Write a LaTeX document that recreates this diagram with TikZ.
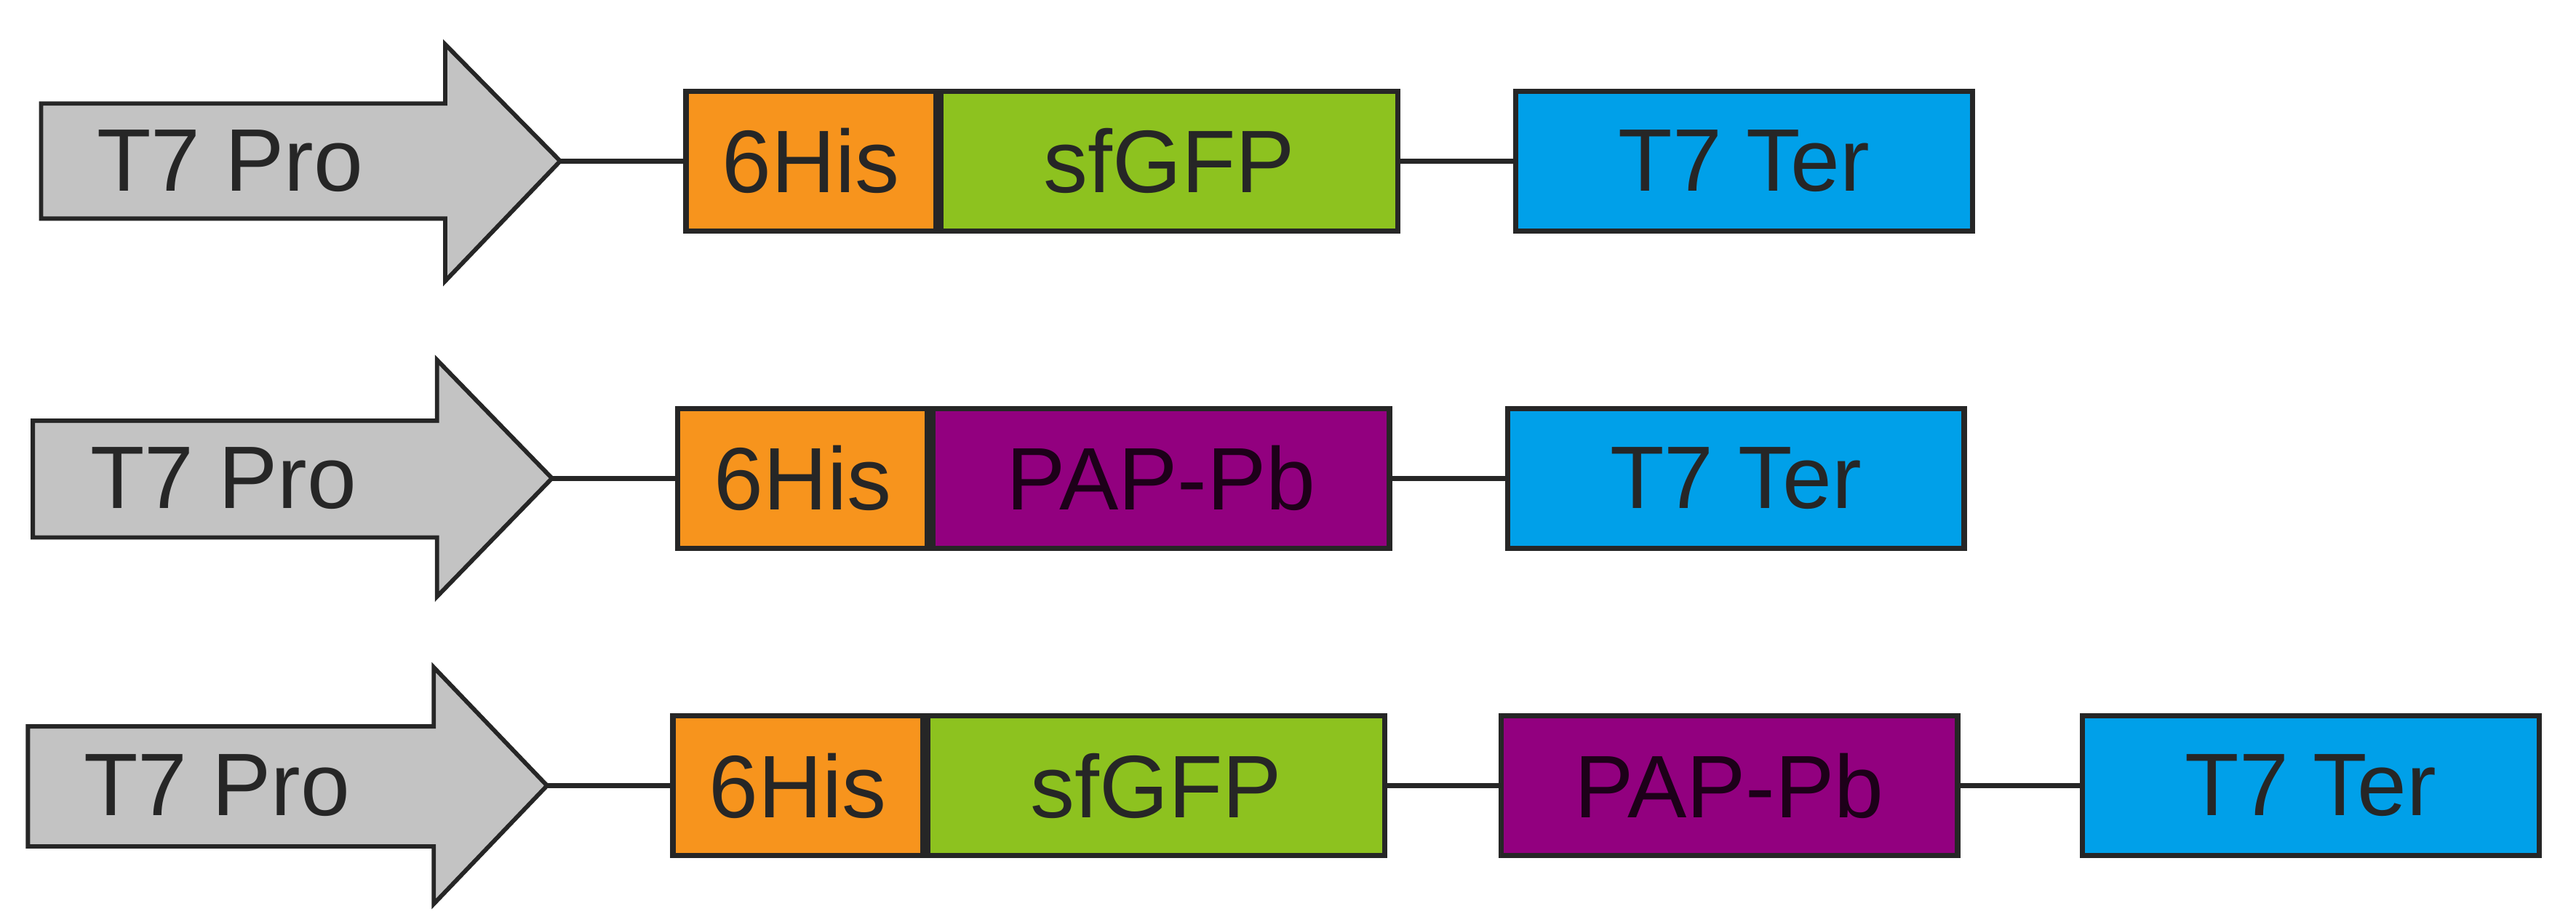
\documentclass[tikz,border=0pt]{standalone}
\usepackage{fontspec}
\setmainfont{Liberation Sans}
\definecolor{cgray}{HTML}{C3C3C3}
\definecolor{corange}{HTML}{F7941D}
\definecolor{cgreen}{HTML}{8DC21F}
\definecolor{cblue}{HTML}{00A0E9}
\definecolor{cpurple}{HTML}{92007F}
\begin{document}
\begin{tikzpicture}[x=0.5pt,y=-0.5pt,
  part/.style={draw=black!85,line width=1.6pt,minimum height=42.5pt,anchor=west,inner sep=0pt,font=\fontsize{27}{30}\selectfont,text=black!85},
  link/.style={line width=1.6pt,draw=black!85},
  arr/.style={draw=black!85,line width=1.3pt,fill=cgray}]
\useasboundingbox (0,0) rectangle (1568,557.5);
% row 1
\draw[arr] (25,63) -- (271,63) -- (271,27) -- (341,98) -- (271,171) -- (271,133) -- (25,133) -- cycle;
\node[font=\fontsize{27}{30}\selectfont,text=black!85] (pro1) at (140,98) {T7 Pro};
\coordinate (tip1) at (341,98);
\node[part,fill=corange,minimum width=76pt] (his1) at (416,98) {6His};
\node[part,fill=cgreen,minimum width=139pt] (gfp1) at (his1.east) {sfGFP};
\node[part,fill=cblue,minimum width=139pt] (ter1) at (921,98) {T7 Ter};
\draw[link] (tip1) -- (his1.west);
\draw[link] (gfp1.east) -- (ter1.west);
% row 2
\draw[arr] (20,256) -- (266,256) -- (266,219) -- (336,291) -- (266,363) -- (266,327) -- (20,327) -- cycle;
\node[font=\fontsize{27}{30}\selectfont,text=black!85] (pro2) at (136,291) {T7 Pro};
\coordinate (tip2) at (336,291);
\node[part,fill=corange,minimum width=76pt] (his2) at (411,291) {6His};
\node[part,fill=cpurple,minimum width=139pt,text=black!80!cpurple] (pap2) at (his2.east) {PAP-Pb};
\node[part,fill=cblue,minimum width=139pt] (ter2) at (916,291) {T7 Ter};
\draw[link] (tip2) -- (his2.west);
\draw[link] (pap2.east) -- (ter2.west);
% row 3
\draw[arr] (17,442) -- (264,442) -- (264,406) -- (333,478) -- (264,550) -- (264,515) -- (17,515) -- cycle;
\node[font=\fontsize{27}{30}\selectfont,text=black!85] (pro3) at (132,478) {T7 Pro};
\coordinate (tip3) at (333,478);
\node[part,fill=corange,minimum width=76pt] (his3) at (408,478) {6His};
\node[part,fill=cgreen,minimum width=139pt] (gfp3) at (his3.east) {sfGFP};
\node[part,fill=cpurple,minimum width=139pt,text=black!80!cpurple] (pap3) at (912,478) {PAP-Pb};
\node[part,fill=cblue,minimum width=139pt] (ter3) at (1266,478) {T7 Ter};
\draw[link] (tip3) -- (his3.west);
\draw[link] (gfp3.east) -- (pap3.west);
\draw[link] (pap3.east) -- (ter3.west);
\end{tikzpicture}
\end{document}
